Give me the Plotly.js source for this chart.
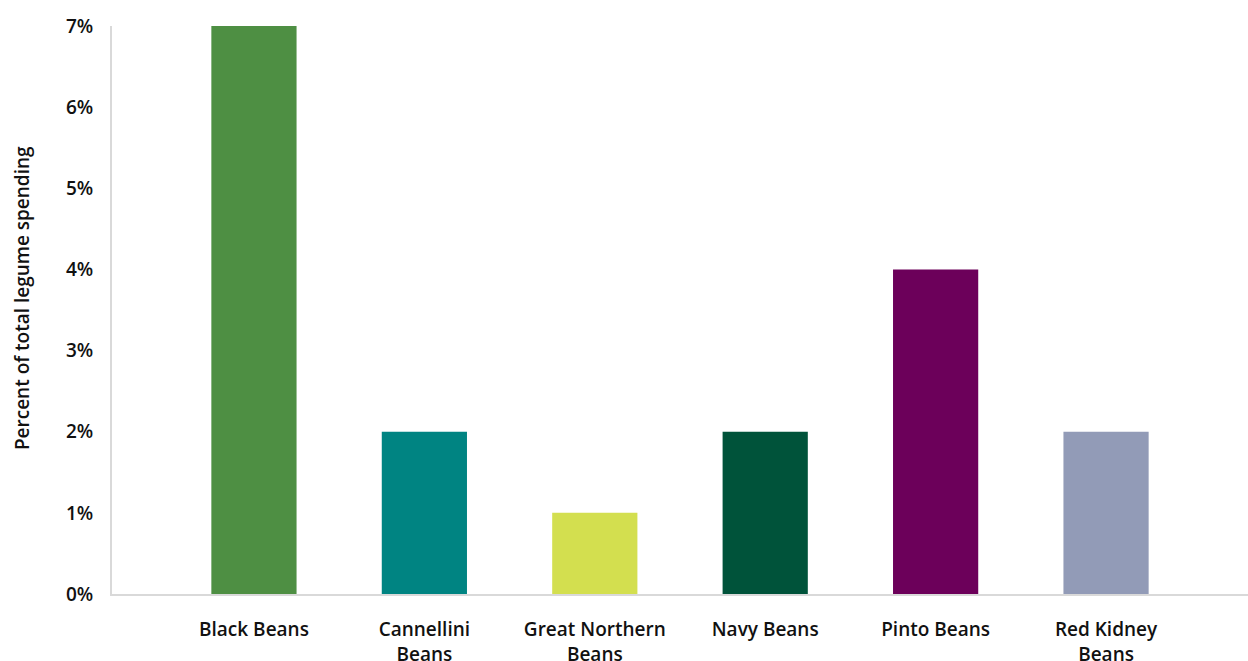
<!DOCTYPE html>
<html>
<head>
<meta charset="utf-8">
<script src="https://cdn.plot.ly/plotly-3.0.1.min.js"></script>
<style>html,body{margin:0;padding:0;background:#fff;}#chart{width:1248px;height:661px;}</style>
</head>
<body>
<div id="chart"></div>
<script>
const categories = ["Black Beans", "Cannellini<br>Beans", "Great Northern<br>Beans", "Navy Beans", "Pinto Beans", "Red Kidney<br>Beans"];
const shareValues = [0.07, 0.02, 0.01, 0.02, 0.04, 0.02];
const barColors = ["#4E8F43", "#008482", "#D3DF4F", "#00533A", "#6C005A", "#929BB7"];
const yTickVals = [0, 0.01, 0.02, 0.03, 0.04, 0.05, 0.06, 0.07];
const yTickText = ["0%", "1%", "2%", "3%", "4%", "5%", "6%", "7%"];
const yTitle = "Percent of total legume spending";

const font = "Open Sans, Lato, sans-serif";
const tf = {family: font, size: 19, color: "#111", weight: 600};

Plotly.newPlot("chart", [{
  type: "bar",
  x: categories,
  y: shareValues,
  width: 0.5,
  marker: {color: barColors},
  hoverinfo: "x+y"
}], {
  width: 1248, height: 661,
  margin: {l: 112, r: 0, t: 26, b: 67, pad: 0},
  paper_bgcolor: "#fff", plot_bgcolor: "#fff",
  showlegend: false,
  font: tf,
  xaxis: {
    type: "category",
    range: [-0.833, 5.833],
    showline: true, linecolor: "#d9d9d9", linewidth: 2,
    showgrid: false, zeroline: false,
    ticks: "", ticklabelstandoff: 17,
    tickfont: tf
  },
  yaxis: {
    range: [0, 0.07],
    tickvals: yTickVals, ticktext: yTickText,
    showline: true, linecolor: "#d9d9d9", linewidth: 2,
    showgrid: false, zeroline: false,
    ticks: "", ticklabelstandoff: 13,
    tickfont: tf
  },
  annotations: [{
    text: yTitle, textangle: -90,
    xref: "paper", yref: "paper",
    x: -0.0792, y: 0.521,
    xanchor: "center", yanchor: "middle",
    showarrow: false, font: tf
  }]
}, {displayModeBar: false, staticPlot: true});
</script>
</body>
</html>
